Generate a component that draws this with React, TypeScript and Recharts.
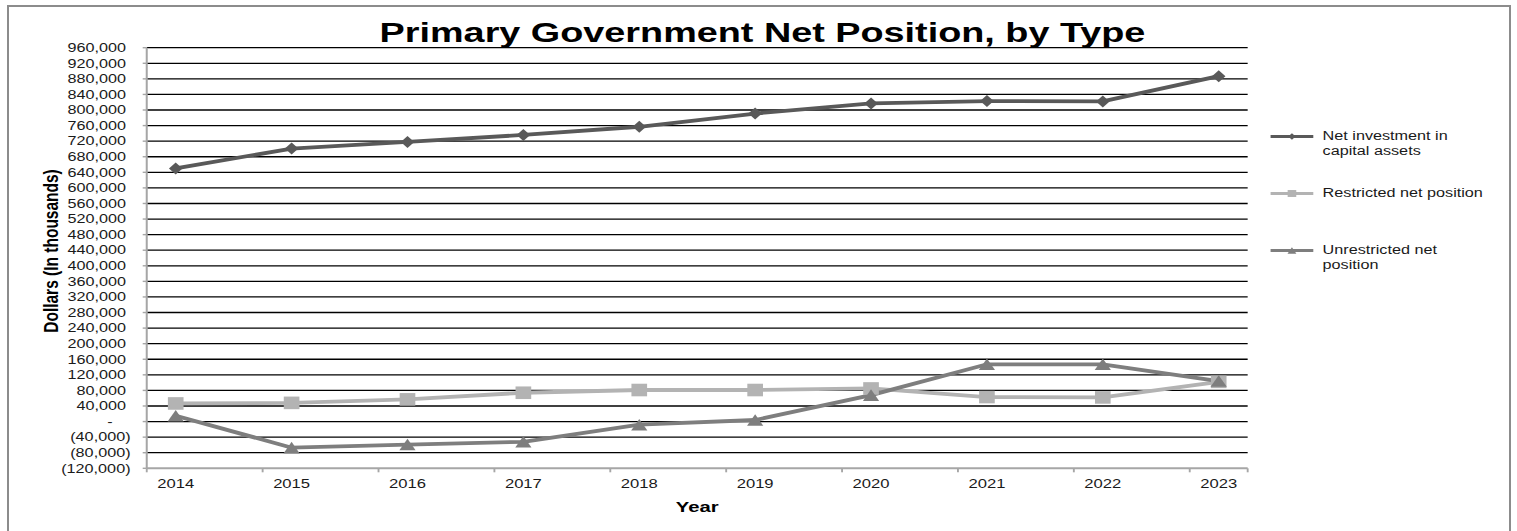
import React from 'react';
import { LineChart, Line, XAxis, YAxis, CartesianGrid, Legend } from 'recharts';

// values, dollars in thousands
const years = [2014, 2015, 2016, 2017, 2018, 2019, 2020, 2021, 2022, 2023];
const netInvestment = [650000, 701000, 718000, 736000, 757000, 791000, 817000, 823000, 822000, 887000];
const restrictedNet = [46500, 48000, 57000, 74000, 81000, 81000, 85000, 63000, 62000, 102000];
const unrestrictedNet = [15000, -67000, -59000, -52000, -8000, 4000, 68000, 147000, 147000, 104000];

const yTicks = [
  -120000, -80000, -40000, 0, 40000, 80000, 120000, 160000, 200000, 240000,
  280000, 320000, 360000, 400000, 440000, 480000, 520000, 560000, 600000, 640000,
  680000, 720000, 760000, 800000, 840000, 880000, 920000, 960000,
];

const seriesNames = ['Net investment in capital assets', 'Restricted net position', 'Unrestricted net position'];

// the source image is stretched sideways, so the chart is drawn narrow and scaled
const STRETCH = 1.35;
const W = 1124;
const H = 531;
const FONT = '"Liberation Sans", Arial, sans-serif';
const TEXT = '#1a1a1a';
const AXIS = '#a6a6a6';

const C = {
  net: '#595959',
  restricted: '#b3b3b3',
  unrestricted: '#7e7e7e',
};

const data = years.map((year, i) => ({
  year,
  net: netInvestment[i],
  restricted: restrictedNet[i],
  unrestricted: unrestrictedNet[i],
}));

// tick marks sit half way between the year labels
const xTicks = [...years.map((y) => y - 0.25), years[years.length - 1] + 0.25, ...years].sort((a, b) => a - b);

const fmtY = (v: number) => {
  if (v === 0) return '-\u00a0\u00a0\u00a0\u00a0';
  if (v < 0) return `(${Math.abs(v).toLocaleString('en-US')})`;
  return `${v.toLocaleString('en-US')}\u00a0`;
};

type Shape = 'diamond' | 'square' | 'triangle';

function Marker({ cx, cy, shape, fill, size = 1 }: { cx: number; cy: number; shape: Shape; fill: string; size?: number }) {
  if (cx == null || cy == null) return null;
  if (shape === 'diamond') {
    const w = 5 * size, h = 6 * size;
    return <path d={`M${cx},${cy - h}L${cx + w},${cy}L${cx},${cy + h}L${cx - w},${cy}Z`} fill={fill} />;
  }
  if (shape === 'square') {
    const w = 5.8 * size, h = 6.3 * size;
    return <rect x={cx - w} y={cy - h} width={w * 2} height={h * 2} fill={fill} />;
  }
  const w = 6 * size, h = 5.8 * size;
  return <path d={`M${cx},${cy - h}L${cx + w},${cy + h}L${cx - w},${cy + h}Z`} fill={fill} />;
}

const dotFor = (shape: Shape, fill: string) => (p: any) => (
  <Marker key={`dot-${shape}-${p.index}`} cx={p.cx} cy={p.cy} shape={shape} fill={fill} />
);

function YearTick(props: any) {
  const { x, y, payload } = props;
  if (Number.isInteger(payload.value)) {
    return (
      <text x={x} y={y + 20} textAnchor="middle" fontSize={12.3} fill={TEXT} fontFamily={FONT}>
        {payload.value}
      </text>
    );
  }
  return <line x1={x} x2={x} y1={y} y2={y + 4} stroke={AXIS} strokeWidth={1.4} />;
}

const legendRows: { name: string; color: string; shape: Shape }[] = [
  { name: seriesNames[0], color: C.net, shape: 'diamond' },
  { name: seriesNames[1], color: C.restricted, shape: 'square' },
  { name: seriesNames[2], color: C.unrestricted, shape: 'triangle' },
];

function LegendBox() {
  return (
    <div style={{ fontFamily: FONT, fontSize: 12, color: TEXT, lineHeight: '15px' }}>
      {legendRows.map((r) => (
        <div key={r.name} style={{ display: 'flex', alignItems: 'flex-start', height: 57 }}>
          <svg width={32} height={15} style={{ flex: 'none' }}>
            <line x1={0} x2={32} y1={7.5} y2={7.5} stroke={r.color} strokeWidth={3} />
            <Marker cx={16} cy={7.5} shape={r.shape} fill={r.color} size={0.55} />
          </svg>
          <div style={{ marginLeft: 7, width: 124 }}>{r.name}</div>
        </div>
      ))}
    </div>
  );
}

export default function App() {
  return (
    <div style={{ position: 'absolute', left: 0, top: 0, width: 1517, height: 531, overflow: 'hidden', background: '#fff' }}>
      <div
        style={{
          position: 'absolute',
          left: 7,
          top: 5,
          width: 1504,
          height: 560,
          border: '2px solid #8c8c8c',
          boxSizing: 'border-box',
        }}
      />
      <div style={{ position: 'absolute', left: 0, top: 0, width: W, height: H, transform: `scaleX(${STRETCH})`, transformOrigin: '0 0' }}>
        <LineChart
          width={W}
          height={H}
          data={data}
          margin={{ top: 47.7, right: 199.8, bottom: 32.7, left: 0 }}
          style={{ fontFamily: FONT }}
        >
          <CartesianGrid vertical={false} stroke="#000" strokeWidth={1.3} horizontalValues={yTicks.slice(1)} />
          <XAxis
            dataKey="year"
            type="number"
            domain={[years[0] - 0.25, years[years.length - 1] + 0.25]}
            ticks={xTicks}
            interval={0}
            tickLine={false}
            tickSize={0}
            tickMargin={0}
            tick={<YearTick />}
            axisLine={{ stroke: AXIS, strokeWidth: 2 }}
            height={30}
          />
          <YAxis
            type="number"
            domain={[yTicks[0], yTicks[yTicks.length - 1]]}
            ticks={yTicks}
            interval={0}
            width={108.7}
            tickSize={3}
            tickMargin={9}
            tickFormatter={fmtY}
            tick={{ fontSize: 12, fill: TEXT, fontFamily: FONT }}
            tickLine={{ stroke: AXIS, strokeWidth: 1.4 }}
            axisLine={{ stroke: AXIS, strokeWidth: 1.5 }}
          />
          <Legend
            layout="vertical"
            align="center"
            verticalAlign="middle"
            content={() => <LegendBox />}
            wrapperStyle={{ left: 940.7, top: 128.5, width: 170 }}
          />
          <Line
            dataKey="net"
            name={seriesNames[0]}
            stroke={C.net}
            strokeWidth={3.8}
            dot={dotFor('diamond', C.net)}
            activeDot={false}
            isAnimationActive={false}
          />
          <Line
            dataKey="restricted"
            name={seriesNames[1]}
            stroke={C.restricted}
            strokeWidth={3.8}
            dot={dotFor('square', C.restricted)}
            activeDot={false}
            isAnimationActive={false}
          />
          <Line
            dataKey="unrestricted"
            name={seriesNames[2]}
            stroke={C.unrestricted}
            strokeWidth={3.8}
            dot={dotFor('triangle', C.unrestricted)}
            activeDot={false}
            isAnimationActive={false}
          />
          <text x={564.8} y={42} textAnchor="middle" fontSize={28} fontWeight="bold" fill="#000" fontFamily={FONT}>
            Primary Government Net Position, by Type
          </text>
          <text
            x={43}
            y={251}
            textAnchor="middle"
            fontSize={15.5}
            fontWeight="bold"
            fill="#000"
            fontFamily={FONT}
            transform="rotate(-90, 43, 251)"
          >
            Dollars (In thousands)
          </text>
          <text x={516.4} y={512} textAnchor="middle" fontSize={15} fontWeight="bold" fill="#000" fontFamily={FONT}>
            Year
          </text>
        </LineChart>
      </div>
    </div>
  );
}
